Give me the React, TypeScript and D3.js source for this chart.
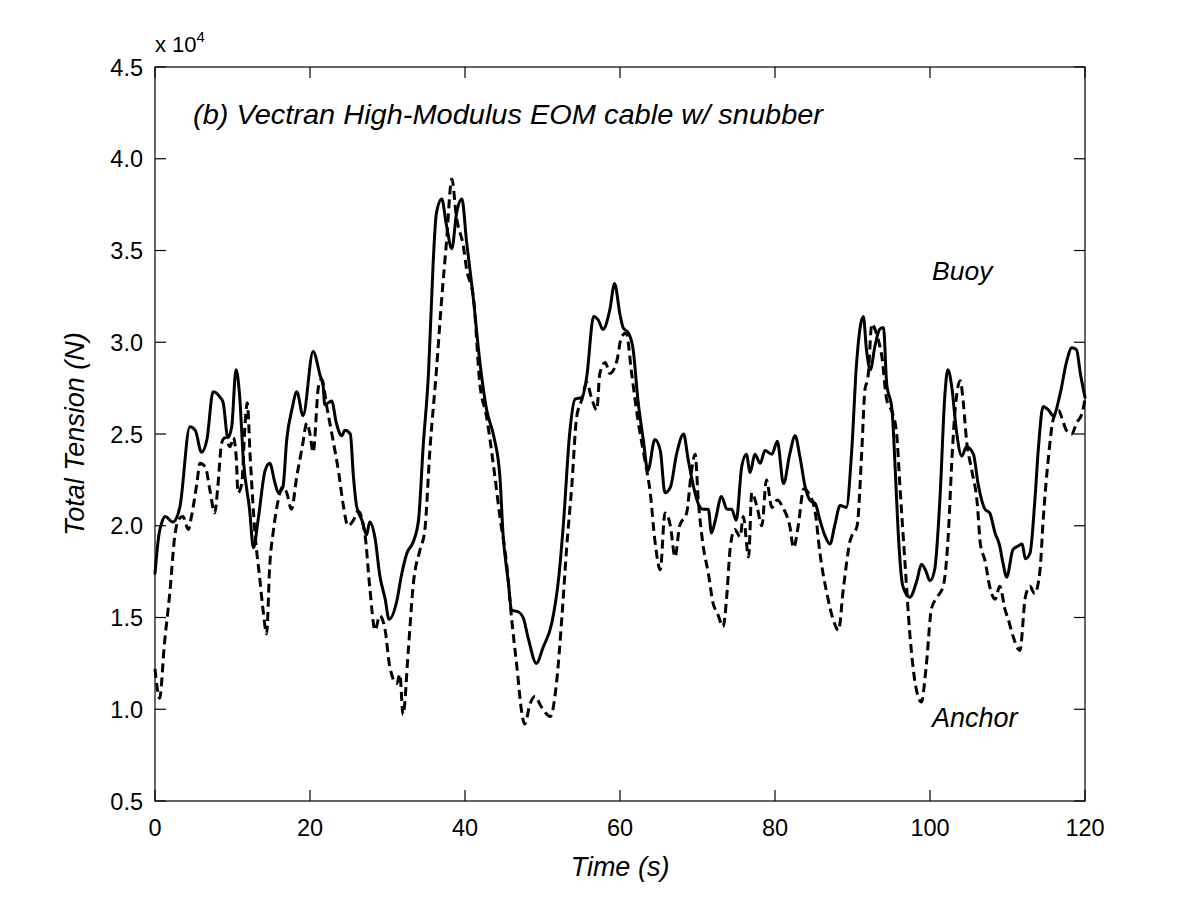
import React from "react"
import * as d3 from "d3"

// ---------- Data (tension in units of 10^4 N) ----------
const buoyTime = [
    0, 0.5, 0.9, 1.3, 2.3, 3.2, 4.5, 5.2, 6.0, 6.7, 7.5, 8.4, 8.8, 9.4, 9.9, 10.45, 10.9, 11.4, 12.2, 12.7,
    13.3, 14.2, 14.8, 15.5, 15.9, 16.5, 17.0, 17.7, 18.3, 19.1, 20.4, 21.3, 21.7, 21.9, 22.8, 23.4, 24.1, 24.5, 25.2, 25.6,
    26.0, 26.7, 27.3, 27.7, 28.4, 29.0, 29.7, 30.2, 31.2, 31.8, 32.5, 33.3, 34.0, 34.6, 35.3, 35.9, 36.3, 37.0, 37.6, 38.3,
    38.9, 39.6, 40.2, 41.1, 41.9, 42.8, 43.7, 44.5, 44.9, 45.6, 46.0, 46.9, 47.5, 48.2, 49.2, 50.1, 51.2, 52.1, 52.7, 53.5,
    54.2, 55.1, 55.7, 56.6, 57.2, 57.8, 58.7, 59.3, 60.0, 60.4, 61.1, 61.7, 62.3, 63.0, 63.6, 64.5, 65.2, 65.8, 66.5, 67.3,
    68.2, 68.8, 69.5, 70.1, 70.7, 71.4, 71.8, 72.3, 73.1, 73.8, 74.4, 75.0, 75.7, 76.3, 76.8, 77.4, 78.1, 78.7, 79.6, 80.3,
    81.1, 81.9, 82.6, 83.2, 83.9, 84.5, 85.2, 85.8, 86.5, 87.1, 87.7, 88.4, 89.2, 89.9, 90.5, 91.4, 91.8, 92.3, 92.9, 93.5,
    94.0, 94.4, 95.1, 95.5, 95.9, 96.5, 97.4, 98.3, 98.9, 99.4, 100.0, 100.6, 101.3, 101.9, 102.3, 102.8, 103.4, 104.1, 104.7, 105.6,
    106.2, 107.1, 107.7, 108.4, 109.0, 109.4, 109.9, 110.7, 111.4, 111.9, 112.3, 112.9, 113.5, 114.0, 114.6, 115.3, 115.9, 116.8, 117.6, 118.3,
    118.9, 119.4, 120.0
]
const buoyTension = [
    1.74, 1.95, 2.02, 2.05, 2.02, 2.10, 2.54, 2.52, 2.40, 2.47, 2.73, 2.70, 2.67, 2.48, 2.54, 2.85, 2.72, 2.36, 2.09, 1.88,
    2.03, 2.30, 2.34, 2.23, 2.18, 2.21, 2.47, 2.64, 2.73, 2.60, 2.95, 2.82, 2.76, 2.66, 2.68, 2.56, 2.49, 2.52, 2.50, 2.27,
    2.11, 2.03, 1.95, 2.02, 1.93, 1.73, 1.60, 1.49, 1.59, 1.73, 1.85, 1.91, 2.03, 2.43, 2.84, 3.44, 3.70, 3.78, 3.64, 3.51,
    3.70, 3.78, 3.55, 3.23, 2.90, 2.63, 2.49, 2.27, 1.96, 1.69, 1.54, 1.53, 1.50, 1.38, 1.25, 1.34, 1.47, 1.72, 2.01, 2.50,
    2.69, 2.70, 2.81, 3.14, 3.12, 3.07, 3.18, 3.32, 3.15, 3.08, 3.05, 2.96, 2.69, 2.47, 2.30, 2.47, 2.41, 2.18, 2.21, 2.39,
    2.50, 2.36, 2.21, 2.12, 2.09, 2.09, 1.96, 2.03, 2.16, 2.09, 2.09, 2.03, 2.32, 2.39, 2.29, 2.39, 2.34, 2.41, 2.39, 2.46,
    2.23, 2.39, 2.49, 2.38, 2.21, 2.14, 2.12, 2.03, 1.94, 1.90, 2.00, 2.11, 2.10, 2.41, 2.87, 3.14, 2.96, 2.85, 2.98, 3.07,
    3.08, 2.78, 2.63, 2.32, 1.96, 1.67, 1.61, 1.70, 1.79, 1.76, 1.70, 1.76, 2.16, 2.70, 2.85, 2.76, 2.52, 2.38, 2.43, 2.39,
    2.23, 2.09, 2.07, 1.96, 1.89, 1.80, 1.72, 1.87, 1.89, 1.90, 1.82, 1.85, 2.12, 2.43, 2.65, 2.63, 2.60, 2.72, 2.89, 2.97,
    2.96, 2.83, 2.70
]

const anchorTime = [
    0, 0.6, 1.2, 1.9, 2.6, 3.0, 3.6, 4.3, 4.7, 5.4, 5.8, 6.5, 7.1, 7.7, 8.1, 8.6, 9.0, 9.7, 10.1, 10.5,
    10.7, 11.2, 11.6, 11.9, 12.3, 12.9, 13.5, 14.0, 14.4, 14.8, 15.3, 15.9, 16.4, 17.0, 17.6, 18.3, 19.0, 19.6, 20.0, 20.4,
    21.1, 21.5, 22.2, 23.0, 23.7, 24.3, 24.9, 25.6, 26.2, 27.1, 27.7, 28.4, 29.0, 29.7, 30.3, 31.2, 31.6, 32.0, 32.7, 33.3,
    34.2, 34.8, 35.5, 36.3, 37.0, 37.6, 38.3, 38.9, 39.8, 40.2, 41.1, 41.9, 42.8, 43.7, 44.5, 45.4, 46.0, 46.7, 47.3, 47.7,
    48.4, 49.0, 49.9, 51.0, 51.8, 52.5, 53.1, 53.8, 54.4, 55.1, 55.7, 56.3, 57.0, 57.4, 58.1, 58.7, 59.6, 60.2, 60.8, 61.5,
    62.3, 63.2, 63.9, 64.5, 65.2, 65.8, 66.5, 67.1, 67.7, 68.6, 69.2, 69.7, 70.1, 70.7, 71.4, 72.0, 72.6, 73.3, 73.8, 74.2,
    74.8, 75.5, 75.9, 76.6, 77.0, 77.7, 78.3, 78.9, 79.6, 80.3, 81.0, 81.9, 82.4, 83.0, 83.7, 84.3, 85.2, 85.8, 86.7, 87.5,
    88.2, 88.8, 89.7, 90.6, 91.2, 91.6, 92.0, 92.5, 93.2, 93.8, 94.4, 95.2, 95.7, 96.1, 96.8, 97.4, 98.1, 98.9, 99.5, 100.2,
    100.9, 101.7, 102.4, 102.8, 103.2, 103.9, 104.3, 104.7, 105.4, 106.1, 106.5, 107.1, 107.7, 108.4, 109.0, 109.7, 110.1, 110.7, 111.6, 112.3,
    112.9, 113.5, 114.2, 114.6, 115.3, 115.9, 116.6, 117.0, 117.6, 118.3, 118.9, 119.6, 120.0
]
const anchorTension = [
    1.22, 1.06, 1.35, 1.63, 1.96, 2.03, 2.05, 1.98, 2.05, 2.23, 2.34, 2.32, 2.19, 2.07, 2.21, 2.45, 2.48, 2.43, 2.48, 2.36,
    2.18, 2.23, 2.54, 2.67, 2.36, 1.96, 1.72, 1.52, 1.41, 1.78, 1.98, 2.14, 2.21, 2.18, 2.09, 2.27, 2.43, 2.56, 2.50, 2.40,
    2.76, 2.80, 2.64, 2.46, 2.29, 2.11, 2.00, 2.03, 2.08, 1.95, 1.67, 1.43, 1.51, 1.43, 1.23, 1.14, 1.19, 0.97, 1.33, 1.67,
    1.87, 1.97, 2.43, 2.84, 3.24, 3.54, 3.89, 3.68, 3.52, 3.40, 3.24, 2.78, 2.59, 2.32, 2.05, 1.78, 1.50, 1.23, 0.99, 0.92,
    1.03, 1.07, 1.01, 0.96, 1.14, 1.50, 1.87, 2.23, 2.59, 2.69, 2.78, 2.70, 2.63, 2.83, 2.89, 2.83, 2.90, 3.03, 3.05, 2.83,
    2.58, 2.36, 2.18, 1.92, 1.76, 2.07, 2.00, 1.83, 2.00, 2.07, 2.29, 2.39, 2.14, 1.90, 1.74, 1.58, 1.52, 1.45, 1.63, 1.87,
    1.98, 1.94, 2.05, 1.83, 2.18, 2.10, 2.00, 2.25, 2.10, 2.14, 2.10, 2.00, 1.88, 2.00, 2.20, 2.18, 2.07, 1.85, 1.63, 1.49,
    1.43, 1.65, 1.92, 2.00, 2.41, 2.74, 2.81, 3.10, 3.03, 2.92, 2.69, 2.61, 2.50, 2.23, 1.78, 1.41, 1.14, 1.04, 1.23, 1.55,
    1.61, 1.67, 1.98, 2.34, 2.61, 2.79, 2.67, 2.47, 2.30, 2.12, 1.90, 1.81, 1.67, 1.60, 1.67, 1.54, 1.49, 1.40, 1.32, 1.61,
    1.67, 1.63, 1.76, 2.03, 2.38, 2.58, 2.63, 2.59, 2.52, 2.50, 2.56, 2.61, 2.69
]

const xTicks = [0, 20, 40, 60, 80, 100, 120]
const yTicks = [0.5, 1.0, 1.5, 2.0, 2.5, 3.0, 3.5, 4.0, 4.5]

const titleText = "(b) Vectran High-Modulus EOM cable w/ snubber"

// ---------- Layout ----------
const W = 1200
const H = 900
const margin = { top: 67, right: 115, bottom: 99, left: 155 }
const FONT = "'Liberation Sans', Arial, Helvetica, sans-serif"
const TICK = 11

const App: React.FC = () => {
    const x = d3.scaleLinear().domain([0, 120]).range([margin.left, W - margin.right])
    const y = d3.scaleLinear().domain([0.5, 4.5]).range([H - margin.bottom, margin.top])

    const line = d3.line<[number, number]>()
        .x(d => x(d[0]))
        .y(d => y(d[1]))
        .curve(d3.curveMonotoneX)

    const buoyPath = line(buoyTime.map((t, i) => [t, buoyTension[i]])) ?? ""
    const anchorPath = line(anchorTime.map((t, i) => [t, anchorTension[i]])) ?? ""

    const x0 = x(0), x1 = x(120), y0 = y(0.5), y1 = y(4.5)

    return (
        <svg width={W} height={H} style={{ position: "absolute", left: 0, top: 0, background: "#fff" }}
            fontFamily={FONT}>
            <rect x={0} y={0} width={W} height={H} fill="#fff" />

            {/* series */}
            <path d={anchorPath} fill="none" stroke="#000" strokeWidth={3}
                strokeDasharray="9,5" strokeLinejoin="round" />
            <path d={buoyPath} fill="none" stroke="#000" strokeWidth={3}
                strokeLinejoin="round" strokeLinecap="round" />

            {/* frame */}
            <rect x={x0} y={y1} width={x1 - x0} height={y0 - y1} fill="none" stroke="#000" strokeWidth={1.2} />

            {/* x ticks (inside, top and bottom) */}
            {xTicks.map(t => (
                <g key={"x" + t}>
                    <line x1={x(t)} x2={x(t)} y1={y0} y2={y0 - TICK} stroke="#000" strokeWidth={1.2} />
                    <line x1={x(t)} x2={x(t)} y1={y1} y2={y1 + TICK} stroke="#000" strokeWidth={1.2} />
                    <text x={x(t)} y={y0 + 35} textAnchor="middle" fontSize={23.5}>{t}</text>
                </g>
            ))}

            {/* y ticks (inside, left and right) */}
            {yTicks.map(t => (
                <g key={"y" + t}>
                    <line x1={x0} x2={x0 + TICK} y1={y(t)} y2={y(t)} stroke="#000" strokeWidth={1.2} />
                    <line x1={x1} x2={x1 - TICK} y1={y(t)} y2={y(t)} stroke="#000" strokeWidth={1.2} />
                    <text x={x0 - 12} y={y(t) + 8.5} textAnchor="end" fontSize={23.5}>{t.toFixed(1)}</text>
                </g>
            ))}

            {/* exponent */}
            <text x={x0} y={52} fontSize={22}>
                x 10<tspan fontSize={15} dy={-10}>4</tspan>
            </text>

            {/* title & labels */}
            <text x={193} y={124} fontSize={28} fontStyle="italic" textLength={630}
                lengthAdjust="spacingAndGlyphs">{titleText}</text>
            <text x={932} y={280} fontSize={26.5} fontStyle="italic">Buoy</text>
            <text x={932} y={727} fontSize={27} fontStyle="italic">Anchor</text>

            <text x={(x0 + x1) / 2} y={876} textAnchor="middle" fontSize={27} fontStyle="italic">Time (s)</text>
            <text transform={`translate(84,${(y0 + y1) / 2}) rotate(-90)`} textAnchor="middle"
                fontSize={27} fontStyle="italic">Total Tension (N)</text>
        </svg>
    )
}

export default App
